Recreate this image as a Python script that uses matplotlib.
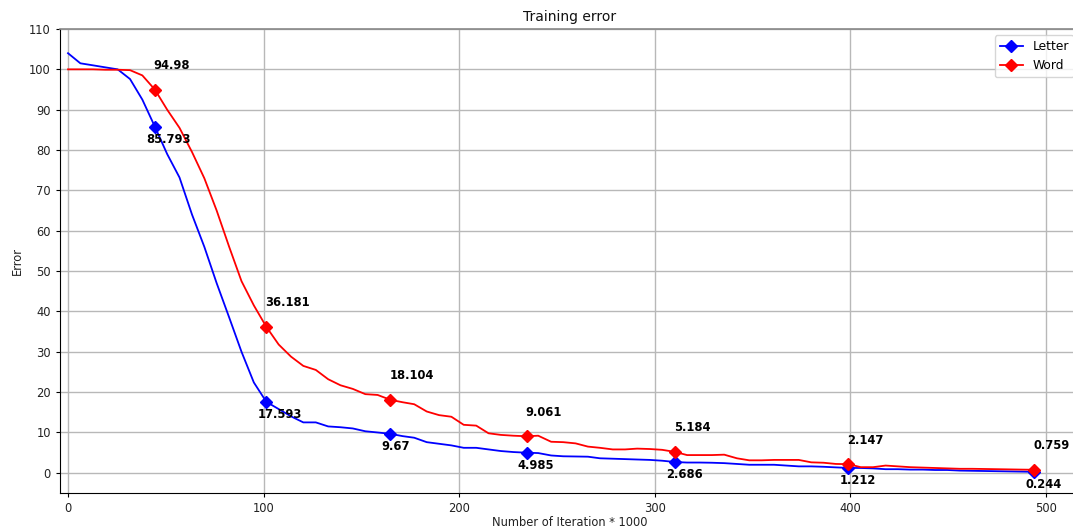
import matplotlib
matplotlib.use("Agg")
import matplotlib.pyplot as plt

# ---------------- data ----------------
letter_x = [0, 6.3, 12.7, 19.0, 25.4, 31.7, 38.0, 44.4, 50.7, 57.0, 63.4, 69.7, 76.0, 82.4,
            88.7, 95.0, 101.4, 107.7, 114.0, 120.3, 126.7, 133.0, 139.3, 145.6, 152.0, 158.3,
            164.8, 171.0, 177.0, 183.4, 189.7, 196.0, 202.3, 208.7, 215.0, 221.3, 227.7, 234.5,
            240.4, 247.0, 253.2, 259.5, 265.8, 272.0, 278.5, 284.8, 291.0, 297.5, 303.8, 310.3,
            316.5, 323.0, 329.2, 335.5, 342.0, 348.3, 354.6, 361.0, 367.3, 373.6, 380.0, 386.3,
            392.6, 399.0, 405.3, 411.6, 418.0, 424.3, 430.6, 437.0, 443.3, 449.6, 456.0, 462.3,
            468.6, 475.0, 481.3, 487.6, 494.0]
letter_y = [104.0, 101.5, 101.0, 100.5, 100.0, 97.6, 92.5, 85.793, 79.0, 73.2, 64.0, 56.0, 47.0,
            38.5, 30.0, 22.4, 17.593, 15.8, 14.0, 12.5, 12.5, 11.5, 11.3, 11.0, 10.3, 10.0,
            9.67, 9.1, 8.7, 7.6, 7.2, 6.8, 6.2, 6.2, 5.8, 5.4, 5.15, 4.985,
            4.9, 4.3, 4.1, 4.05, 4.0, 3.6, 3.5, 3.4, 3.3, 3.2, 3.0, 2.686,
            2.55, 2.55, 2.5, 2.4, 2.2, 2.0, 2.0, 2.0, 1.8, 1.6, 1.6, 1.5,
            1.35, 1.212, 1.2, 1.1, 0.9, 0.9, 0.8, 0.8, 0.7, 0.7, 0.55, 0.5,
            0.45, 0.4, 0.35, 0.3, 0.244]

word_x = letter_x
word_y = [100.0, 100.0, 100.0, 99.9, 99.9, 99.8, 98.5, 94.98, 90.0, 85.5, 79.5, 73.0, 65.0,
          56.0, 47.5, 41.5, 36.181, 31.8, 28.8, 26.5, 25.5, 23.2, 21.7, 20.8, 19.5, 19.3,
          18.104, 17.5, 17.0, 15.2, 14.3, 13.9, 11.9, 11.7, 9.8, 9.4, 9.2, 9.061,
          9.2, 7.7, 7.6, 7.3, 6.5, 6.2, 5.8, 5.8, 6.0, 5.9, 5.7, 5.184,
          4.4, 4.4, 4.4, 4.5, 3.6, 3.1, 3.1, 3.2, 3.2, 3.2, 2.6, 2.5,
          2.2, 2.147, 1.4, 1.4, 1.8, 1.6, 1.4, 1.3, 1.2, 1.1, 1.0, 1.0,
          0.95, 0.9, 0.85, 0.8, 0.759]

# indices of the annotated (marked) points
mark_idx = [7, 16, 26, 37, 49, 63, 78]

x_ticks = [0, 100, 200, 300, 400, 500]
y_ticks = [0, 10, 20, 30, 40, 50, 60, 70, 80, 90, 100, 110]

# ---------------- plot ----------------
FS = 8.3
plt.rcParams['font.family'] = ['DejaVu Sans']
fig = plt.figure(figsize=(10.73, 5.30), dpi=100)
ax = fig.add_axes([60 / 1073, 37 / 530, 1020 / 1073, 464 / 530])

ax.plot(letter_x, letter_y, color='blue', lw=1.3, marker='D', markersize=6.3,
        markevery=mark_idx, label='Letter', zorder=3)
ax.plot(word_x, word_y, color='red', lw=1.3, marker='D', markersize=6.3,
        markevery=mark_idx, label='Word', zorder=3)

for i in mark_idx:
    ax.annotate(f"{word_y[i]:g}", xy=(word_x[i], word_y[i]), xytext=(-1, 24),
                textcoords='offset pixels', ha='left', va='center',
                fontsize=FS, fontweight='bold')
    ax.annotate(f"{letter_y[i]:g}", xy=(letter_x[i], letter_y[i]), xytext=(-9, -13),
                textcoords='offset pixels', ha='left', va='center',
                fontsize=FS, fontweight='bold')

ax.set_xlim(-4.1, 517.4)
ax.set_ylim(-5, 110)
ax.set_xticks(x_ticks)
ax.set_yticks(y_ticks)
ax.tick_params(labelsize=FS, length=3, width=0.8, colors='black')
for lbl in ax.get_xticklabels() + ax.get_yticklabels():
    lbl.set_color('#222222')
ax.grid(True, color='#b8b8b8', lw=1.0)
ax.set_axisbelow(True)
ax.spines['top'].set_color('#888888')
ax.spines['top'].set_linewidth(1.2)
ax.spines['right'].set_visible(False)
ax.spines['left'].set_color('black')
ax.spines['bottom'].set_color('black')

ax.set_title('Training error', fontsize=10, color='#111111', pad=6)
ax.set_xlabel('Number of Iteration * 1000', fontsize=FS, color='#222222', labelpad=1)
ax.set_ylabel('Error', fontsize=FS, color='#222222', labelpad=4)

ax.legend(loc='upper right', fontsize=8.8, framealpha=0.8, edgecolor='#cccccc',
          fancybox=True, borderaxespad=0.5, handlelength=1.9)

fig.savefig('out.png', dpi=100)
